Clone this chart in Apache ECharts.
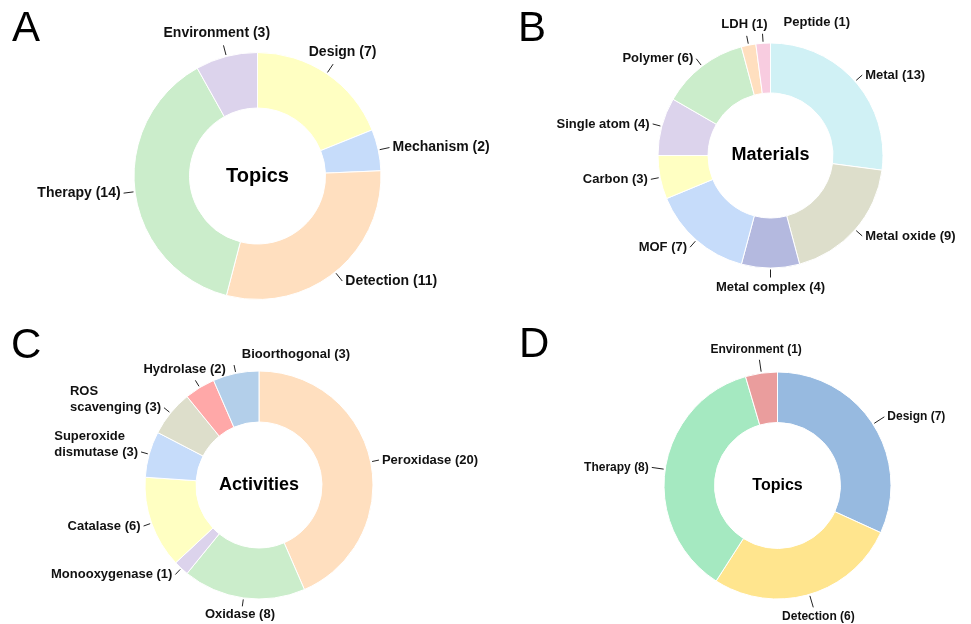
<!DOCTYPE html>
<html>
<head>
<meta charset="utf-8">
<script src="https://cdn.jsdelivr.net/npm/echarts@6.0.0/dist/echarts.min.js"></script>
<style>
  html, body { margin: 0; padding: 0; background: #fff; }
  #wrap { position: relative; width: 971px; height: 624px; }
  .panel { position: absolute; left: 0; top: 0; width: 971px; height: 624px; }
</style>
</head>
<body>
<div id="wrap">
  <div id="pA" class="panel"></div>
  <div id="pB" class="panel"></div>
  <div id="pC" class="panel"></div>
  <div id="pD" class="panel"></div>
</div>
<script>
// ---- Data (clockwise from 12 o'clock) ----
const topicsA_names = ['Design', 'Mechanism', 'Detection', 'Therapy', 'Environment'];
const topicsA_values = [7, 2, 11, 14, 3];

const materials_names = ['Metal', 'Metal oxide', 'Metal complex', 'MOF', 'Carbon', 'Single atom', 'Polymer', 'LDH', 'Peptide'];
const materials_values = [13, 9, 4, 7, 3, 4, 6, 1, 1];

const activities_names = ['Peroxidase', 'Oxidase', 'Monooxygenase', 'Catalase', 'Superoxide dismutase', 'ROS scavenging', 'Hydrolase', 'Bioorthogonal'];
const activities_values = [20, 8, 1, 6, 3, 3, 2, 3];

const topicsD_names = ['Design', 'Detection', 'Therapy', 'Environment'];
const topicsD_values = [7, 6, 8, 1];

const panelLetters = ['A', 'B', 'C', 'D'];
const centerTitles = ['Topics', 'Materials', 'Activities', 'Topics'];

// ---- Styles ----
const colorsA = ['#FFFFC2', '#C6DCFA', '#FFDFBF', '#CBEDCB', '#DCD3EC'];
const colorsB = ['#D0F1F5', '#DDDECB', '#B4B9DF', '#C6DCFA', '#FFFFC2', '#DCD3EC', '#CBEDCB', '#FFDFBF', '#F8CCE0'];
const colorsC = ['#FFDFBF', '#CBEDCB', '#DCD3EC', '#FFFFC2', '#C6DCFA', '#DDDECB', '#FFA8A8', '#B3CFEA'];
const colorsD = ['#97BAE0', '#FFE58E', '#A5E9C1', '#EA9D9D'];

const FONT = '"Liberation Sans", Arial, Helvetica, sans-serif';
const PADX = 8;

function makeLayout(lineLen, gap, labelGap, belowGap, k, lineH) {
  return function (p) {
    const pts = p.labelLinePoints;
    if (!pts || pts.length < 2) return {};
    const p0 = pts[0], p1 = pts[1];
    let dx = p1[0] - p0[0], dy = p1[1] - p0[1];
    const len = Math.hypot(dx, dy) || 1;
    dx /= len; dy /= len;
    const s = [p0[0] + dx * gap, p0[1] + dy * gap];
    const e = [p0[0] + dx * (gap + lineLen), p0[1] + dy * (gap + lineLen)];
    const w = p.labelRect.width, h = p.labelRect.height;
    const wText = w - 2 * PADX;
    const nLines = String(p.text).split('\n').length;
    let x, y, shift = false;
    if (Math.abs(dx) >= 0.6) {
      x = dx > 0 ? e[0] + labelGap - PADX : e[0] - labelGap - w + PADX;
      y = nLines > 1 ? e[1] - h + lineH / 2 : e[1] - h / 2;
    } else {
      x = e[0] + dx * (wText / 2) * k - w / 2;
      if (dy < 0) { y = e[1] - labelGap - h; shift = true; }
      else { y = e[1] + belowGap; }
    }
    const out = { x: x, y: y, align: 'left', verticalAlign: 'top', labelLinePoints: [s, e, e] };
    if (shift) out.moveOverlap = 'shiftX';
    return out;
  };
}

function buildOption(cfg) {
  const data = cfg.names.map((n, i) => ({ name: n, value: cfg.values[i], itemStyle: { color: cfg.colors[i] } }));
  const lineH = Math.round(cfg.labelSize * 1.25);
  return {
    animation: false,
    graphic: [
      { type: 'text', x: cfg.letterX, y: cfg.letterY,
        style: { text: cfg.letter, font: '42px ' + FONT, fill: '#000', align: 'left', verticalAlign: 'middle' } },
      { type: 'text', x: cfg.center[0], y: cfg.center[1],
        style: { text: cfg.title, font: 'bold ' + cfg.titleSize + 'px ' + FONT, fill: '#000', align: 'center', verticalAlign: 'middle' } }
    ],
    series: [{
      type: 'pie',
      center: cfg.center,
      radius: cfg.radius,
      startAngle: 90,
      clockwise: true,
      avoidLabelOverlap: false,
      silent: true,
      emphasis: { disabled: true },
      itemStyle: { borderColor: '#ffffff', borderWidth: 1 },
      label: {
        show: true,
        position: 'outside',
        fontFamily: FONT,
        fontWeight: 'bold',
        fontSize: cfg.labelSize,
        color: '#111',
        lineHeight: lineH,
        padding: [0, PADX],
        formatter: function (pr) {
          const nm = cfg.breakNames ? pr.name.replace(' ', '\n') : pr.name;
          return nm + ' (' + pr.value + ')';
        }
      },
      labelLine: { show: true, length: 10, length2: 0, lineStyle: { color: '#222', width: 1 } },
      labelLayout: makeLayout(cfg.lineLen, 1.5, 3, cfg.belowGap, 0.5, lineH),
      data: data
    }]
  };
}

const cfgs = [
  { el: 'pA', names: topicsA_names, values: topicsA_values, colors: colorsA, letter: panelLetters[0], title: centerTitles[0],
    center: [257.5, 176], radius: [68, 123.5], titleSize: 20, labelSize: 14, lineLen: 10, belowGap: 2, letterX: 12, letterY: 29 },
  { el: 'pB', names: materials_names, values: materials_values, colors: colorsB, letter: panelLetters[1], title: centerTitles[1],
    center: [770.5, 155.5], radius: [62.5, 112.5], titleSize: 18, labelSize: 13, lineLen: 8, belowGap: 2, letterX: 518, letterY: 29 },
  { el: 'pC', names: activities_names, values: activities_values, colors: colorsC, letter: panelLetters[2], title: centerTitles[2],
    center: [259, 485], radius: [63, 114], titleSize: 18, labelSize: 13, lineLen: 7, belowGap: 0, letterX: 11, letterY: 346, breakNames: true },
  { el: 'pD', names: topicsD_names, values: topicsD_values, colors: colorsD, letter: panelLetters[3], title: centerTitles[3],
    center: [777.5, 485.5], radius: [63, 113.5], titleSize: 16, labelSize: 12, lineLen: 12, belowGap: 2, letterX: 519, letterY: 345 }
];

cfgs.forEach(cfg => {
  const chart = echarts.init(document.getElementById(cfg.el), null, { renderer: 'canvas' });
  chart.setOption(buildOption(cfg));
});
</script>
</body>
</html>
